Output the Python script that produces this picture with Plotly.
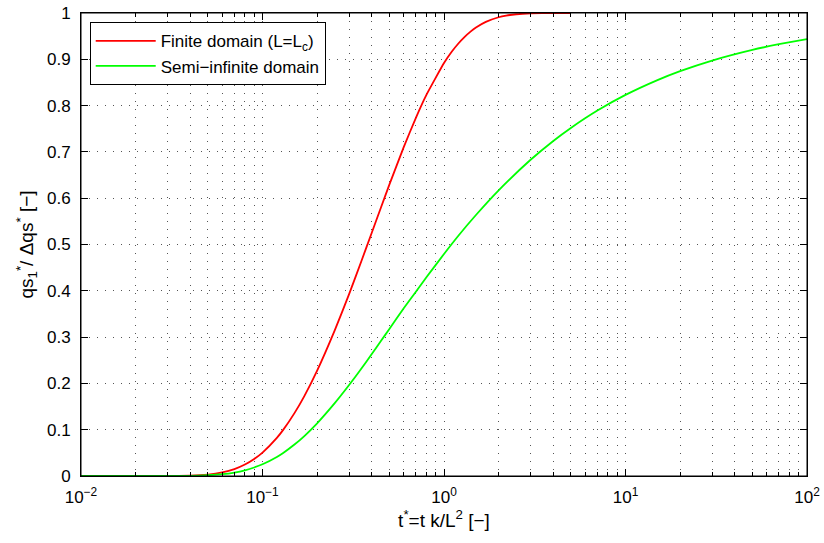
import plotly.graph_objects as go

# Values
t_red = [0.01, 0.02, 0.03, 0.04, 0.05, 0.06, 0.07, 0.08, 0.09, 0.1, 0.12, 0.13, 0.15, 0.17,
         0.2, 0.25, 0.3, 0.35, 0.4, 0.45, 0.5, 0.6, 0.7, 0.8, 1.0, 1.1, 1.2, 1.3, 1.4, 1.5,
         1.7, 2.0, 2.2, 2.5, 3.0, 4.0, 5.0]
q_red = [0.0, 0.0, 0.0001, 0.0008, 0.0031, 0.0078, 0.0150, 0.0248, 0.0368, 0.0506, 0.0824,
         0.0996, 0.1358, 0.1726, 0.2276, 0.3146, 0.3928, 0.4633, 0.5255, 0.5805, 0.6292,
         0.7103, 0.7736, 0.8231, 0.8920, 0.9156, 0.9341, 0.9485, 0.9598, 0.9686, 0.9808,
         0.9908, 0.9944, 0.9973, 0.9992, 0.9999, 1.0]

t_green = [0.01, 0.02, 0.03, 0.04, 0.05, 0.06, 0.07, 0.08, 0.09, 0.1, 0.12, 0.13, 0.15, 0.17,
           0.2, 0.25, 0.3, 0.35, 0.4, 0.45, 0.5, 0.6, 0.7, 0.8, 1.0, 1.2, 1.5, 2.0, 3.0, 4.0,
           5.0, 7.0, 10.0, 15.0, 20.0, 30.0, 50.0, 70.0, 100.0]
q_green = [0.0, 0.0, 0.0001, 0.0004, 0.0016, 0.0039, 0.0075, 0.0124, 0.0184, 0.0253, 0.0412,
           0.0498, 0.0679, 0.0863, 0.1138, 0.1573, 0.1965, 0.2315, 0.2634, 0.2922, 0.3173,
           0.3625, 0.3980, 0.4292, 0.4795, 0.5190, 0.5637, 0.6170, 0.6830, 0.7237, 0.7518,
           0.7893, 0.8231, 0.8551, 0.8744, 0.8973, 0.9203, 0.9326, 0.9436]

x_tickvals = [0.01, 0.1, 1, 10, 100]
x_ticktext = ["10<sup>−2</sup>", "10<sup>−1</sup>", "10<sup>0</sup>", "10<sup>1</sup>", "10<sup>2</sup>"]
x_minor_vals = [m * d for d in [0.01, 0.1, 1, 10] for m in range(2, 10)]
y_tickvals = [0, 0.1, 0.2, 0.3, 0.4, 0.5, 0.6, 0.7, 0.8, 0.9, 1.0]
y_ticktext = ["0", "0.1", "0.2", "0.3", "0.4", "0.5", "0.6", "0.7", "0.8", "0.9", "1"]

font = "Liberation Sans, Arial, Helvetica, sans-serif"
grid_dash = "1px,7px"
grid_col = "#555555"

fig = go.Figure()
# invisible helper trace so the top (mirror) axis is drawn
fig.add_trace(go.Scatter(x=[0.01, 100], y=[0, 0], xaxis="x2", mode="lines",
                         line=dict(width=0), showlegend=False, hoverinfo="skip"))
fig.add_trace(go.Scatter(x=t_red, y=q_red, mode="lines", name="Finite domain (L=L<sub>c</sub>)",
                         line=dict(color="#ff0000", width=1.8, shape="spline", smoothing=0.4)))
fig.add_trace(go.Scatter(x=t_green, y=q_green, mode="lines", name="Semi−infinite domain",
                         line=dict(color="#00ff00", width=1.8, shape="spline", smoothing=0.4)))

fig.update_layout(
    width=824, height=543,
    margin=dict(l=81, r=17, t=13, b=67, autoexpand=False),
    paper_bgcolor="white", plot_bgcolor="white",
    font=dict(family=font, size=16, color="black"),
    showlegend=True,
    legend=dict(x=0.012, y=0.98, xanchor="left", yanchor="top",
                bordercolor="black", borderwidth=1, bgcolor="white",
                font=dict(size=17), tracegroupgap=0, itemwidth=60),
    xaxis=dict(type="log", range=[-2, 2], tickmode="array", tickvals=x_tickvals,
               ticktext=x_ticktext,
               ticks="inside", ticklen=7, tickcolor="black", showline=True, linecolor="black",
               linewidth=1, mirror="ticks", showgrid=True, gridcolor=grid_col, griddash=grid_dash,
               gridwidth=1, zeroline=False, ticklabeloverflow="allow", automargin=False,
               ticklabelstandoff=6,
               minor=dict(tickmode="array", tickvals=x_minor_vals, ticks="inside", ticklen=4,
                          tickcolor="black", showgrid=True, gridcolor=grid_col,
                          griddash=grid_dash, gridwidth=1),
               title=dict(text="t<sup>*</sup>=t k/L<sup>2</sup> [−]", standoff=6,
                          font=dict(size=19)),
               tickfont=dict(size=17)),
    xaxis2=dict(type="log", range=[-2, 2], overlaying="x", anchor="y", side="top",
                tickmode="array", tickvals=x_tickvals, ticks="inside", ticklen=7,
                tickcolor="black", showline=True, linecolor="black", linewidth=1,
                showgrid=False, zeroline=False, showticklabels=False, automargin=False,
                minor=dict(tickmode="array", tickvals=x_minor_vals, ticks="inside", ticklen=4,
                           tickcolor="black", showgrid=False)),
    yaxis=dict(range=[0, 1], tickvals=y_tickvals, ticktext=y_ticktext,
               ticks="inside", ticklen=7, tickcolor="black", showline=True, linecolor="black",
               linewidth=1, mirror="ticks", showgrid=True, gridcolor=grid_col, griddash=grid_dash,
               gridwidth=1, zeroline=False, automargin=False, ticklabelstandoff=6,
               ticklabeloverflow="allow",
               title=dict(text="qs<sub>1</sub><sup>*</sup>/ Δqs<sup>*</sup> [−]", standoff=8,
                          font=dict(size=19)),
               tickfont=dict(size=17)),
)
# plot-area frame
fig.add_shape(type="rect", xref="paper", yref="paper", x0=0, x1=1, y0=0, y1=1,
              line=dict(color="black", width=1), fillcolor="rgba(0,0,0,0)", layer="above")

fig.write_html("out.html", config={"displayModeBar": False},
               post_script="document.body.style.margin='0';document.body.style.overflow='hidden';")
